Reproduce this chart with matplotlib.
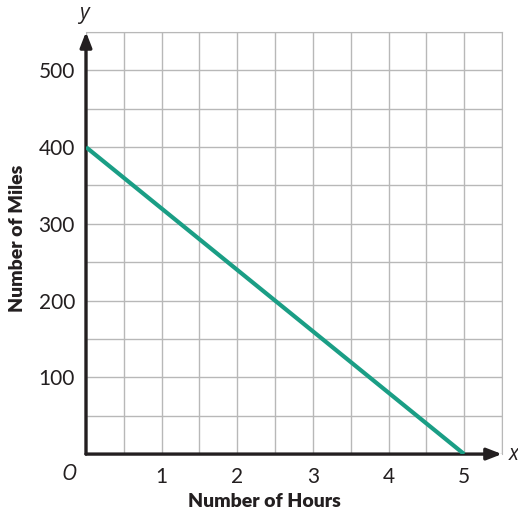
import numpy as np
import matplotlib.pyplot as plt

hours = [0, 5]
miles = [400, 0]
x_ticks = [1, 2, 3, 4, 5]
y_ticks = [100, 200, 300, 400, 500]

plt.rcParams['font.family'] = ['Lato', 'DejaVu Sans']

fig = plt.figure(figsize=(5.18, 5.16), dpi=100)
ax = fig.add_axes([0.166, 0.120, 0.803, 0.818])
ax.set_xlim(0, 5.5)
ax.set_ylim(0, 550)

# grid
ax.set_xticks(np.arange(0, 5.51, 0.5), minor=True)
ax.set_yticks(np.arange(0, 551, 50), minor=True)
ax.grid(True, which='both', color='#b8b8b8', linewidth=1.0)
ax.set_xticks(x_ticks)
ax.set_yticks(y_ticks)
ax.tick_params(which='both', length=0)
ax.tick_params(which='major', labelsize=15, colors='#231f20')
ax.tick_params(axis='x', pad=9)
ax.tick_params(axis='y', pad=8)
for s in ax.spines.values():
    s.set_visible(False)
ax.spines['top'].set_visible(True)
ax.spines['right'].set_visible(True)
ax.spines['top'].set_color('#b8b8b8')
ax.spines['right'].set_color('#b8b8b8')

# axes with arrows
ax.annotate('', xy=(5.5, 0), xytext=(0, 0), xycoords='data',
            arrowprops=dict(arrowstyle='-|>,head_length=0.9,head_width=0.35',
                            color='#231f20', lw=2.4, shrinkA=0, shrinkB=0),
            annotation_clip=False)
ax.annotate('', xy=(0, 550), xytext=(0, 0), xycoords='data',
            arrowprops=dict(arrowstyle='-|>,head_length=0.9,head_width=0.35',
                            color='#231f20', lw=2.4, shrinkA=0, shrinkB=0),
            annotation_clip=False)

ax.plot(hours, miles, color='#1a9e85', linewidth=3, solid_capstyle='butt', zorder=3)

ital = ['Open Sans', 'DejaVu Sans']
ax.text(-0.22, -27, 'O', fontsize=15, style='italic', ha='center', va='center', color='#231f20', family=ital)
ax.text(5.66, 0, 'x', fontsize=15, style='italic', ha='center', va='center', color='#231f20', family=ital)
ax.text(-0.03, 574, 'y', fontsize=15, style='italic', ha='center', va='center', color='#231f20', family=ital)

ax.set_xlabel('Number of Hours', fontsize=14, fontweight='heavy', color='#231f20')
ax.set_ylabel('Number of Miles', fontsize=14, fontweight='heavy', color='#231f20')
ax.xaxis.set_label_coords(0.43, -0.093)
ax.yaxis.set_label_coords(-0.145, 0.51)

fig.savefig('out.png', dpi=100)
